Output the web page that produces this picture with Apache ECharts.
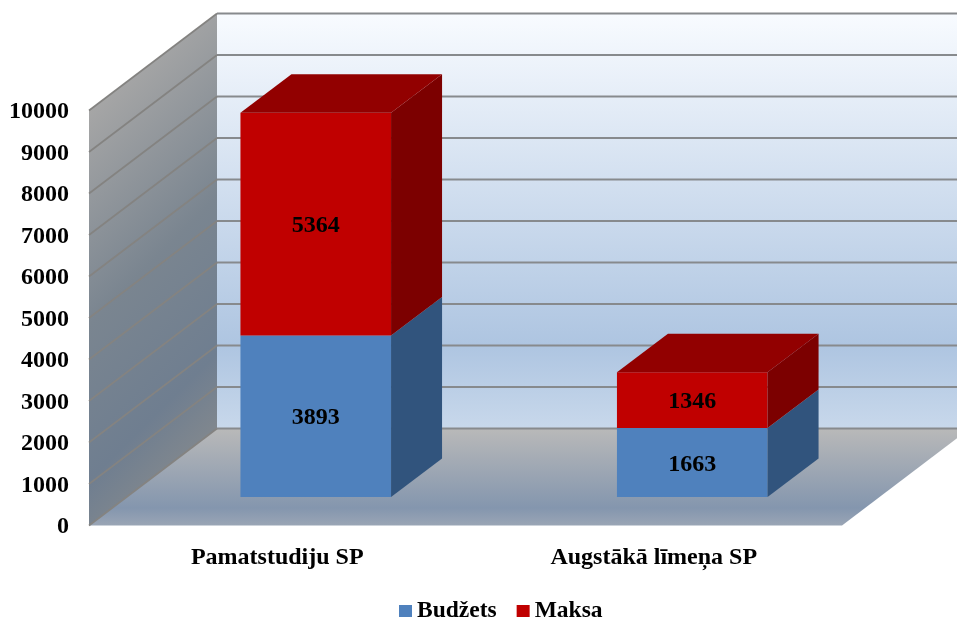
<!DOCTYPE html>
<html>
<head>
<meta charset="utf-8">
<style>html,body{margin:0;padding:0;background:#fff}#c{width:957px;height:618px}</style>
<script src="https://cdn.jsdelivr.net/npm/echarts@6/dist/echarts.min.js"></script>
</head>
<body>
<div id="c"></div>
<script>
const categories = ['Pamatstudiju SP', 'Augstākā līmeņa SP'];
const budzets = [3893, 1663];
const maksa = [5364, 1346];
const seriesNames = ['Budžets', 'Maksa'];
const ticks = [0, 1000, 2000, 3000, 4000, 5000, 6000, 7000, 8000, 9000, 10000];

const FAMILY = '"Liberation Serif", "Times New Roman", serif';
const FONT = 'bold 24px ' + FAMILY;
const WALL = [128, -97];     // depth of the chart box
const PLANE = [38.5, -28.5]; // where the bars' front face sits inside the box
const DEPTH = [51, -38.5];   // depth of a bar

function poly(points, fill) {
  return { type: 'polygon', shape: { points: points }, style: { fill: fill } };
}
function vgrad(stops) { return { type: 'linear', x: 0, y: 0, x2: 0, y2: 1, colorStops: stops }; }

function renderBox(params, api) {
  const cs = params.coordSys;
  const x0 = cs.x, x1 = cs.x + cs.width;
  const y0 = api.coord([0, ticks[0]])[1];
  const yT = api.coord([0, ticks[ticks.length - 1]])[1];
  const dx = WALL[0], dy = WALL[1];
  const sideFill = { type: 'linear', global: true, x: x0, y: yT, x2: x0 + 223, y2: yT + 223, colorStops: [
    { offset: 0, color: '#a6a6a6' }, { offset: 0.48, color: '#7a8590' }, { offset: 0.83, color: '#6f7e90' }, { offset: 1, color: '#80878e' }] };
  return { type: 'group', children: [
    poly([[x0 + dx, yT + dy], [x1 + dx, yT + dy], [x1 + dx, y0 + dy], [x0 + dx, y0 + dy]], vgrad([
      { offset: 0, color: '#f8fbff' }, { offset: 0.8, color: '#aec5e1' }, { offset: 1, color: '#c8d8eb' }])),
    poly([[x0, yT], [x0 + dx, yT + dy], [x0 + dx, y0 + dy], [x0, y0]], sideFill),
    poly([[x0, y0], [x0 + dx, y0 + dy], [x1 + dx, y0 + dy], [x1, y0]], vgrad([
      { offset: 0, color: '#b9b9b9' }, { offset: 0.82, color: '#8496ae' }, { offset: 1, color: '#9aa5b5' }]))
  ] };
}

function renderGrid(params, api) {
  const cs = params.coordSys;
  const x0 = cs.x, x1 = cs.x + cs.width;
  const y = api.coord([0, api.value(0)])[1];
  const dx = WALL[0], dy = WALL[1];
  return { type: 'group', children: [
    { type: 'line', shape: { x1: x0 + dx, y1: y + dy, x2: x1 + dx, y2: y + dy },
      style: { stroke: '#878a8d', lineWidth: 2 } },
    { type: 'line', shape: { x1: x0, y1: y, x2: x0 + dx, y2: y + dy },
      style: { stroke: '#848381', lineWidth: 1.75 } }
  ] };
}

function renderBar(colors, hasTop) {
  return function (params, api) {
    const i = api.value(0);
    const w = api.size([1, 0])[0] * 0.4;
    const a = api.coord([i, api.value(1)]);
    const b = api.coord([i, api.value(2)]);
    const l = a[0] + PLANE[0] - w / 2, r = l + w;
    const yb = a[1] + PLANE[1], yt = b[1] + PLANE[1];
    const dx = DEPTH[0], dy = DEPTH[1];
    const children = [
      poly([[l, yb], [r, yb], [r, yt], [l, yt]], colors.front),
      poly([[r, yb], [r + dx, yb + dy], [r + dx, yt + dy], [r, yt]], colors.side)
    ];
    if (hasTop) children.push(poly([[l, yt], [r, yt], [r + dx, yt + dy], [l + dx, yt + dy]], colors.top));
    children.push({ type: 'text', x: (l + r) / 2, y: (yb + yt) / 2 + 2,
      style: { text: String(api.value(2) - api.value(1)), font: FONT, fill: '#000', align: 'center', verticalAlign: 'middle' } });
    return { type: 'group', children: children };
  };
}

const chart = echarts.init(document.getElementById('c'), null, { renderer: 'canvas' });
chart.setOption({
  animation: false,
  backgroundColor: '#fff',
  grid: { left: 89, right: 115, top: 110.5, bottom: 92.5, containLabel: false },
  legend: {
    left: 399, top: 599, itemWidth: 13, itemHeight: 12, itemGap: 20, padding: 0,
    data: seriesNames.map(n => ({ name: n, icon: 'rect' })),
    itemStyle: { borderWidth: 0 },
    textStyle: { fontFamily: FAMILY, fontWeight: 'bold', fontSize: 23.5, color: '#000' }
  },
  xAxis: {
    type: 'category', data: categories,
    axisLine: { show: false }, axisTick: { show: false }, splitLine: { show: false },
    axisLabel: { margin: 20, interval: 0, color: '#000', fontFamily: FAMILY, fontWeight: 'bold', fontSize: 24 }
  },
  yAxis: {
    type: 'value', min: ticks[0], max: ticks[ticks.length - 1], interval: ticks[1] - ticks[0],
    axisLine: { show: false }, axisTick: { show: false }, splitLine: { show: false },
    axisLabel: { margin: 20, formatter: v => '{v|' + v + '}',
      rich: { v: { padding: [3, 0, 0, 0], color: '#000', fontFamily: FAMILY, fontWeight: 'bold', fontSize: 24 } } }
  },
  series: [
    { type: 'custom', name: 'box', silent: true, renderItem: renderBox, data: [[0, 0]], encode: { x: 0, y: 1 } },
    { type: 'custom', name: 'gridlines', silent: true, renderItem: renderGrid, data: ticks.map(t => [t]), encode: { y: 0 }, coordinateSystem: 'cartesian2d' },
    { type: 'custom', name: seriesNames[0], itemStyle: { color: '#4f81bd' },
      renderItem: renderBar({ front: '#4f81bd', side: '#31547d', top: '#3b6394' }, false),
      data: categories.map((c, i) => [i, 0, budzets[i]]), encode: { x: 0, y: [1, 2] } },
    { type: 'custom', name: seriesNames[1], itemStyle: { color: '#c00000' },
      renderItem: renderBar({ front: '#c00000', side: '#7c0000', top: '#920000' }, true),
      data: categories.map((c, i) => [i, budzets[i], budzets[i] + maksa[i]]), encode: { x: 0, y: [1, 2] } }
  ]
});
</script>
</body>
</html>
